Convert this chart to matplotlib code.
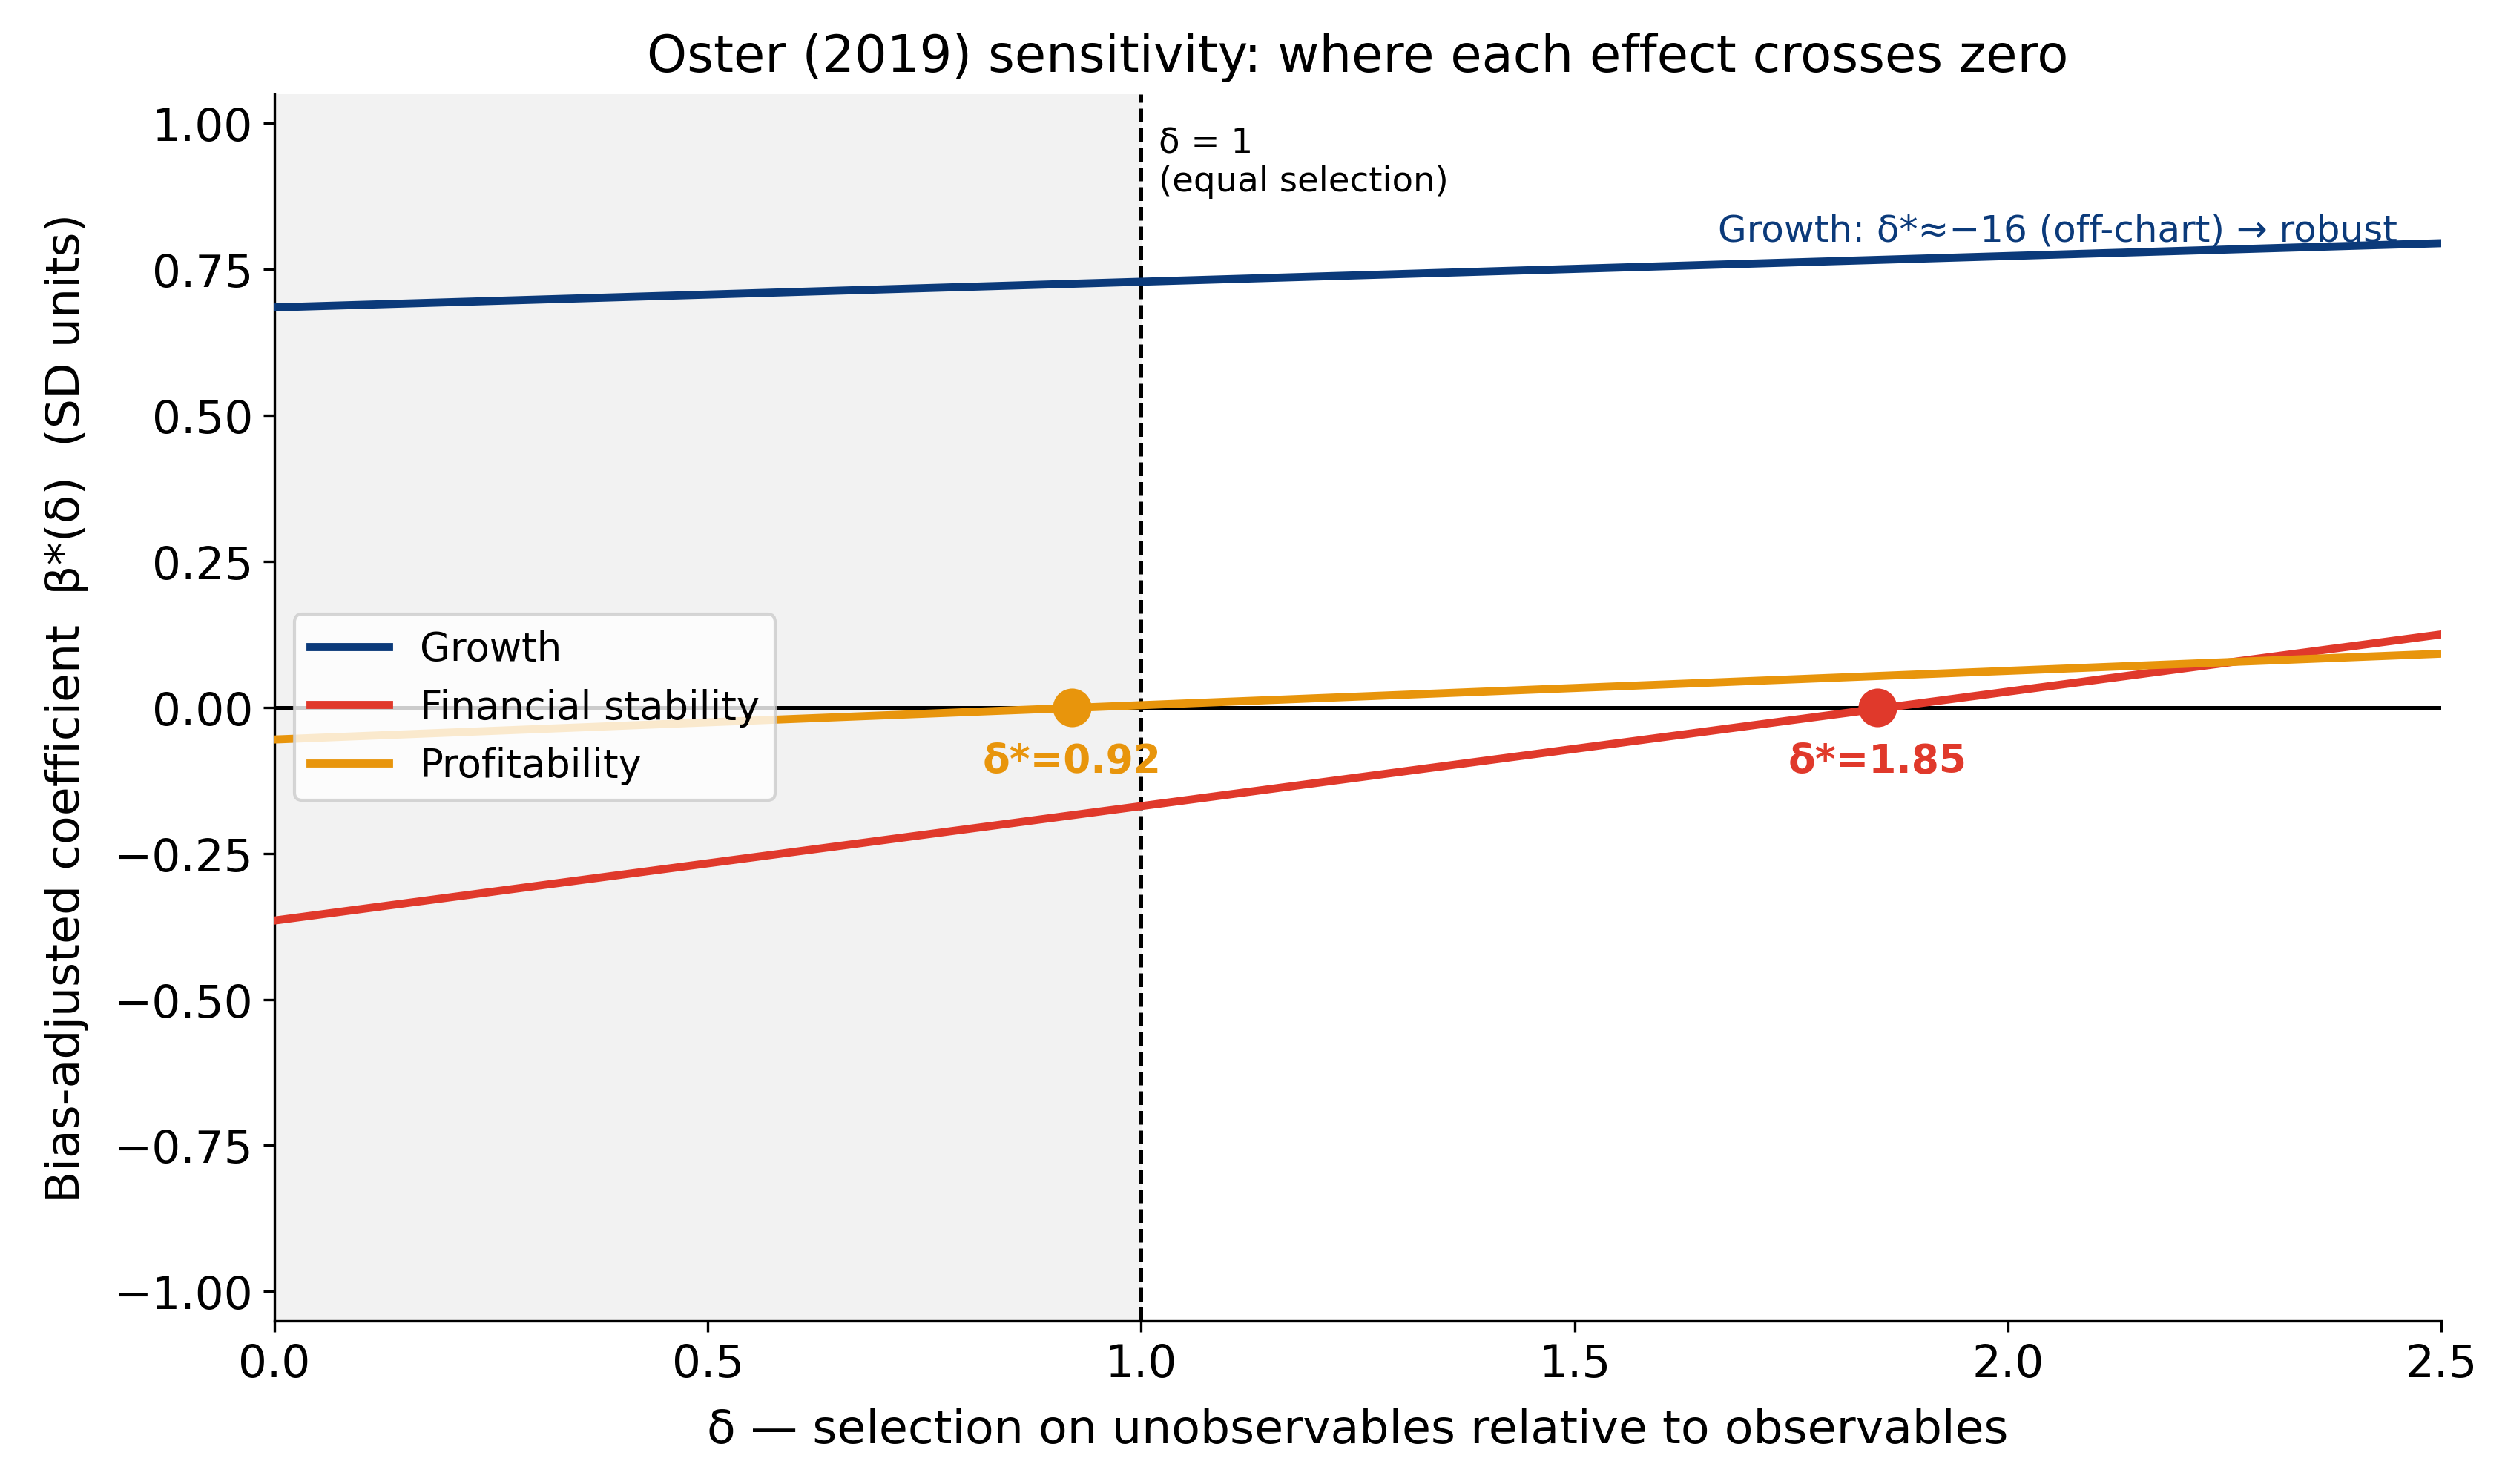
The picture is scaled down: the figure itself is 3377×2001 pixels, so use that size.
import matplotlib
matplotlib.use("Agg")
import matplotlib.pyplot as plt
import numpy as np

# delta grid (line endpoints) and bias-adjusted coefficients
delta = [0.0, 2.5]
growth = [0.685, 0.795]
fin_stab = [-0.365, 0.125]
profit = [-0.055, 0.092]

# breakdown points (delta* where beta*(delta) = 0)
cross_delta = [0.92, 1.85]
cross_labels = ["δ*=0.92", "δ*=1.85"]

c_growth = "#0b3a7a"
c_fin = "#e0392b"
c_profit = "#e8950c"
cross_colors = [c_profit, c_fin]

fig = plt.figure(figsize=(3377 / 300, 2002 / 300), dpi=300)
ax = fig.add_axes([0.1096, 0.1101, 0.8649, 0.8259])

ax.axvspan(0, 1, color="#f2f2f2", zorder=0)
ax.axhline(0, color="black", lw=1.2, zorder=1)
ax.axvline(1, color="black", lw=1.2, ls="--", zorder=1)

ax.plot(delta, growth, color=c_growth, lw=2.6, label="Growth", zorder=3)
ax.plot(delta, fin_stab, color=c_fin, lw=2.6, label="Financial stability", zorder=3)
ax.plot(delta, profit, color=c_profit, lw=2.6, label="Profitability", zorder=3)

for d, lab, col in zip(cross_delta, cross_labels, cross_colors):
    ax.plot(d, 0, "o", color=col, markersize=11.5, zorder=4)
    ax.annotate(lab, (d, 0), xytext=(0, -11), textcoords="offset points",
                ha="center", va="top", color=col, fontsize=12.8, fontweight="bold")

ax.text(1.02, 0.995, "δ = 1\n(equal selection)", ha="left", va="top", fontsize=11.2)
ax.text(2.45, 0.786, "Growth: δ*≈−16 (off-chart) → robust", ha="right", va="bottom",
        color=c_growth, fontsize=12)

ax.set_xlim(0, 2.5)
ax.set_ylim(-1.05, 1.05)
ax.set_yticks(np.arange(-1.0, 1.01, 0.25))
ax.tick_params(labelsize=14.7)
ax.spines["top"].set_visible(False)
ax.spines["right"].set_visible(False)

ax.set_xlabel("δ — selection on unobservables relative to observables", fontsize=15.2,
              labelpad=7)
ax.set_ylabel("Bias-adjusted coefficient  β*(δ)  (SD units)", fontsize=15.2, labelpad=8)
ax.set_title("Oster (2019) sensitivity: where each effect crosses zero", fontsize=16.5,
             pad=7.5)

ax.legend(loc="center left", fontsize=12.7)

fig.savefig("out.png", dpi=300)
